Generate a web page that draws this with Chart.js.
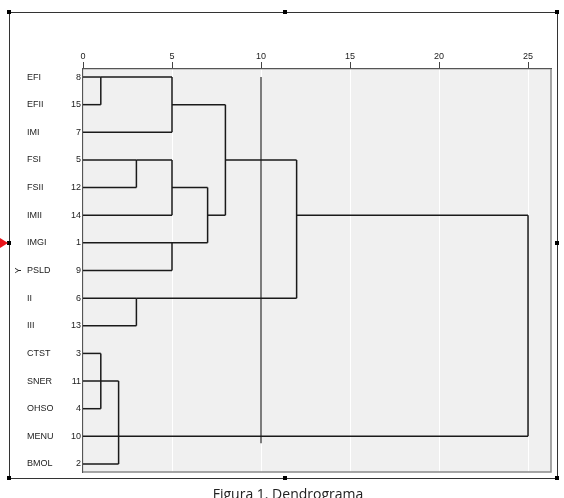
<!DOCTYPE html>
<html>
<head>
<meta charset="utf-8">
<script src="https://cdn.jsdelivr.net/npm/chart.js@4"></script>
<style>
  html, body { margin: 0; padding: 0; background: #fff; }
  #wrap { position: relative; width: 564px; height: 498px; overflow: hidden; }
  #chart { position: absolute; left: 0; top: 0; }
  .frame { position: absolute; left: 9px; top: 12px; width: 549px; height: 467px;
           border: 1px solid #333; box-sizing: border-box; pointer-events: none; }
  .handle { position: absolute; width: 4px; height: 4px; background: #000; }
  .arrow { position: absolute; left: 0; top: 238px; width: 0; height: 0;
           border-top: 5px solid transparent; border-bottom: 5px solid transparent;
           border-left: 8px solid #e8141b; }
  .caption { position: absolute; left: 138px; top: 487px; width: 300px; text-align: center;
             font: 14px "Open Sans", sans-serif; line-height: 14px; color: #222; }
</style>
</head>
<body>
<div id="wrap">
  <canvas id="chart" width="564" height="498"></canvas>
  <div class="frame"></div>
  <div class="handle" style="left:7px;top:10px"></div>
  <div class="handle" style="left:283px;top:10px"></div>
  <div class="handle" style="left:555px;top:10px"></div>
  <div class="handle" style="left:7px;top:241px"></div>
  <div class="handle" style="left:555px;top:241px"></div>
  <div class="handle" style="left:7px;top:476px"></div>
  <div class="handle" style="left:283px;top:476px"></div>
  <div class="handle" style="left:555px;top:476px"></div>
  <div class="arrow"></div>
  <div class="caption">Figura 1. Dendrograma</div>
</div>
<script>
const caseLabels = ["EFI", "EFII", "IMI", "FSI", "FSII", "IMII", "IMGI", "PSLD",
  "II", "III", "CTST", "SNER", "OHSO", "MENU", "BMOL"];
const caseNumbers = [8, 15, 7, 5, 12, 14, 1, 9, 6, 13, 3, 11, 4, 10, 2];
const distanceTicks = [0, 5, 10, 15, 20, 25];

// one entry per merge: rescaled distance, the two rows joined,
// and the distance where each incoming branch starts
const mergeDistance = [1, 5, 3, 5, 5, 7, 8, 3, 12, 1, 2, 25];
const mergeUpperRow = [0, 0, 3, 3, 6, 4, 1, 8, 3, 10, 11, 5];
const mergeLowerRow = [1, 2, 4, 5, 7, 6, 5, 9, 8, 12, 14, 13];
const upperFrom = [0, 1, 0, 3, 0, 5, 5, 0, 8, 0, 0, 12];
const lowerFrom = [0, 0, 0, 0, 0, 5, 7, 0, 3, 0, 0, 0];

const cutDistance = 10;
const cutRows = [0, 13.25];

const labelFont = { family: "Liberation Sans", size: 9 };
const rowMin = -0.29, rowMax = 14.29;

function segment(points, width) {
  return {
    data: points,
    showLine: true,
    borderColor: "#1a1a1a",
    borderWidth: width || 1.5,
    pointRadius: 0,
    xAxisID: "x",
    yAxisID: "yNum",
  };
}

const datasets = [];
mergeDistance.forEach((d, i) => {
  const up = mergeUpperRow[i], lo = mergeLowerRow[i];
  datasets.push(segment([{ x: upperFrom[i], y: up }, { x: d, y: up }]));
  datasets.push(segment([{ x: lowerFrom[i], y: lo }, { x: d, y: lo }]));
  datasets.push(segment([{ x: d, y: up }, { x: d, y: lo }]));
});
datasets.push(segment([{ x: cutDistance, y: cutRows[0] }, { x: cutDistance, y: cutRows[1] }], 1.1));

const plotFrame = {
  id: "plotFrame",
  beforeDraw(chart) {
    const { ctx, chartArea: a } = chart;
    ctx.save();
    ctx.fillStyle = "#f0f0f0";
    ctx.fillRect(a.left, a.top, a.right - a.left, a.bottom - a.top);
    ctx.restore();
  },
  beforeDatasetsDraw(chart) {
    const { ctx, chartArea: a } = chart;
    ctx.save();
    ctx.strokeStyle = "#8a8a8a";
    ctx.lineWidth = 1.5;
    ctx.beginPath();
    ctx.moveTo(a.right, a.top);
    ctx.lineTo(a.right, a.bottom);
    ctx.lineTo(a.left, a.bottom);
    ctx.stroke();
    ctx.restore();
  },
};

new Chart(document.getElementById("chart"), {
  type: "scatter",
  data: { datasets },
  plugins: [plotFrame],
  options: {
    responsive: false,
    animation: false,
    devicePixelRatio: 1,
    layout: { padding: { left: 13, top: 0, right: 13, bottom: 26 } },
    plugins: { legend: { display: false }, tooltip: { enabled: false } },
    scales: {
      x: {
        type: "linear",
        position: "top",
        min: 0,
        max: 26.29,
        afterBuildTicks: (s) => { s.ticks = distanceTicks.map((v) => ({ value: v })); },
        afterFit: (s) => { s.height = 69; },
        ticks: { font: labelFont, color: "#222", padding: 0, maxRotation: 0 },
        grid: { color: "#ffffff", lineWidth: 1, tickColor: "#444", tickLength: 7 },
        border: { color: "#555", width: 1.2 },
      },
      yNum: {
        type: "linear",
        position: "left",
        weight: 0,
        min: rowMin,
        max: rowMax,
        reverse: true,
        afterBuildTicks: (s) => { s.ticks = caseNumbers.map((_, i) => ({ value: i })); },
        afterFit: (s) => { s.width = 24; },
        ticks: { autoSkip: false, font: labelFont, color: "#222", padding: 2,
                 callback: (v, i) => caseNumbers[i] },
        grid: { display: false, drawTicks: false },
        border: { display: true, color: "#555", width: 1.2 },
      },
      yName: {
        type: "linear",
        position: "left",
        weight: 1,
        min: rowMin,
        max: rowMax,
        reverse: true,
        afterBuildTicks: (s) => { s.ticks = caseLabels.map((_, i) => ({ value: i })); },
        afterFit: (s) => { s.width = 32; },
        ticks: { autoSkip: false, font: labelFont, color: "#222", padding: 0, crossAlign: "far",
                 callback: (v, i) => caseLabels[i] },
        grid: { display: false, drawTicks: false },
        border: { display: false },
      },
      yTitle: {
        type: "linear",
        position: "left",
        weight: 2,
        min: 0,
        max: 1,
        afterFit: (s) => { s.width = 14; },
        ticks: { display: false },
        grid: { display: false, drawTicks: false },
        border: { display: false },
        title: { display: true, text: "Y", font: labelFont, color: "#222", padding: 0 },
      },
    },
  },
});
</script>
</body>
</html>
